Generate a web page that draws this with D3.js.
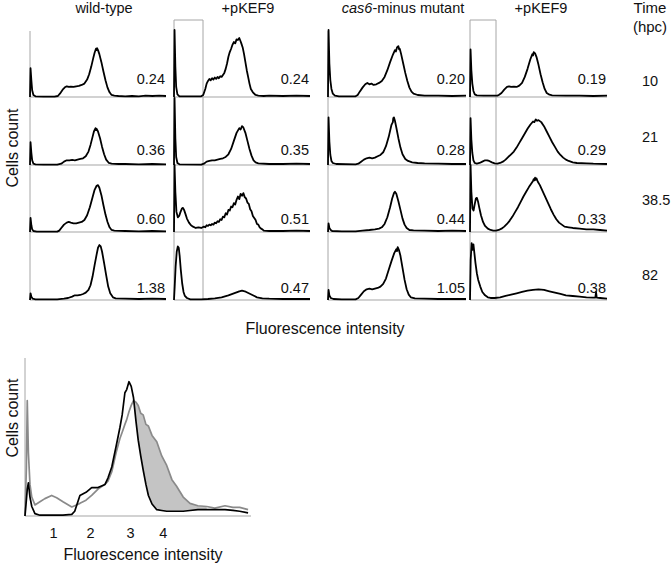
<!DOCTYPE html>
<html>
<head>
<meta charset="utf-8">
<script src="https://cdn.jsdelivr.net/npm/d3@7"></script>
<style>
  html, body { margin: 0; padding: 0; background: #fff; }
  svg { display: block; font-family: "Liberation Sans", Arial, sans-serif; }
</style>
</head>
<body>
<svg id="chart" width="672" height="566"></svg>
<script>
// ---------------- DATA ----------------
const columnLabels = ["wild-type", "+pKEF9", "cas6-minus mutant", "+pKEF9"];
const timeHeader = ["Time", "(hpc)"];
const timeLabels = ["10", "21", "38.5", "82"];
const cvRow10  = ["0.24", "0.24", "0.20", "0.19"];
const cvRow21  = ["0.36", "0.35", "0.28", "0.29"];
const cvRow38  = ["0.60", "0.51", "0.44", "0.33"];
const cvRow82  = ["1.38", "0.47", "1.05", "0.38"];

// histograms: [fluorescence (0-100), cell count (0-100)]
const wt10 = [[0,0],[0.4,43],[1,25],[1.6,10],[2.5,3],[4,1],[10,0.5],[18,0.5],[20.5,1.5],[22,5],[24,11],[26,15],[27,16],[28.5,15],[30,15.5],[32,15],[34,16],[36,16.5],[38,18],[40,20],[42,26],[43.5,34],[45,45],[46.5,58],[47.5,66],[48.5,72],[49,70],[49.3,73],[50,70],[51,64],[52.5,52],[54,38],[55.5,25],[57,14],[58.5,7],[60,3],[62,2],[65,1.5],[70,1],[75,1.5],[80,1],[85,2],[90,1.5],[95,2],[100,1.5]];
const wt21 = [[0,0],[0.4,34],[1,18],[1.6,7],[2.5,2],[4,1],[10,0.5],[20,0.5],[23,2],[25,5],[27,7],[29,7],[31,7.5],[33,7],[35,8],[37,9],[39,10],[41,13],[43,20],[44.5,30],[46,42],[47,50],[48.2,55],[48.6,52],[49,54],[50,50],[51.5,40],[53,27],[54.5,16],[56,8],[58,3],[60,2],[65,1.5],[70,1.5],[80,1],[90,1.5],[100,1]];
const wt38 = [[0,0],[0.4,21],[1,10],[1.6,4],[2.5,1.5],[5,0.5],[20,0.5],[21.5,2],[23,6],[25,11],[27,14],[28.5,15],[30,14],[32,13],[34,13],[36,14],[38,15],[40,18],[42,25],[44,37],[46,52],[47.5,63],[49,69],[50,70],[51,66],[52.5,55],[54,40],[55.5,26],[57,15],[58.5,7],[60,3],[62,2],[70,1.5],[80,1],[90,1.5],[100,1]];
const wt82 = [[0,0],[0.4,10],[1,5],[2,2],[4,1],[20,1],[25,2],[28,3],[31,5],[33,7],[35,7],[37,7.5],[39,9],[41,11],[43,15],[44.5,22],[46,35],[47.5,52],[49,68],[50,78],[51,82],[52,80],[53,72],[54.5,55],[56,37],[57.5,20],[59,10],[61,4],[63,2.5],[70,2],[80,1.5],[90,2],[100,1.5]];

const pk10 = [[0,0],[0.4,100],[1,45],[1.6,15],[2.5,4],[4,1],[10,1],[20,1],[21.5,3],[23,12],[24,20],[25,24],[26,27],[27,25],[28,28],[29,26],[30,29],[31,27],[32,30],[33,28],[34,31],[35,30],[36,33],[37,36],[38,42],[39,50],[40,60],[41,67],[42,72],[43,78],[44,82],[45,80],[46,86],[47,85],[48,88],[48.8,84],[49.5,80],[50.5,74],[51.5,64],[52.5,52],[53.5,40],[54.5,30],[55.5,20],[56.5,12],[58,7],[60,3],[62,2],[66,1.5],[70,2],[80,1.5],[90,2],[100,1.5]];
const pk21 = [[0,0],[0.4,100],[1,40],[1.6,12],[2.5,3],[4,1],[20,0.5],[22,2],[24,5],[26,6],[28,7],[30,7],[32,8],[34,9],[36,10],[38,12],[40,16],[42,24],[44,36],[46,48],[48,55],[49,53],[50,58],[51,56],[52.5,48],[54,36],[55.5,24],[57,14],[58.5,7],[60,4],[62,2.5],[70,1.5],[80,1.5],[90,2],[100,1.5]];
const pk38 = [[0,0],[0.4,100],[1,60],[1.8,30],[2.8,22],[3.8,24],[4.8,30],[5.8,35],[6.6,36],[7.4,33],[8.4,27],[9.5,20],[11,14],[12.5,10],[14,8],[16,6],[18,7],[20,6],[22,8],[23,7],[24,10],[25,9],[26,11],[27,10],[28,12],[29,11],[30,14],[31,13],[32,16],[33,15],[34,19],[35,18],[36,23],[37,22],[38,28],[39,26],[40,33],[41,32],[42,38],[43,37],[44,43],[45,41],[46,48],[47,53],[48,49],[49,57],[50,54],[51,58],[52,52],[53,50],[54,44],[55,42],[56,34],[57,31],[58,24],[59,21],[60,18],[61,12],[62,11],[63,7],[64,5],[65,4],[66,2],[70,1.5],[80,1.5],[90,2],[100,1.5]];
const pk82 = [[0,0],[0.5,20],[1.2,50],[2,72],[2.8,80],[3.5,78],[4.2,65],[5,45],[6,25],[7,12],[8,6],[9.5,3],[12,1],[20,1],[25,1.5],[30,2.5],[35,4],[40,7],[44,10],[48,13],[50,14],[52,13],[55,10],[58,7],[61,4],[65,2.5],[70,2],[80,1.5],[90,1.5],[100,1.5]];

const cas10 = [[0,0],[0.4,100],[1,50],[1.7,25],[2.5,12],[3.5,5],[5,2],[8,1],[20,1],[21.5,3],[23,8],[25,14],[27,19],[28.5,21],[30,19],[31.5,20],[33,18],[35,19],[37,21],[39,24],[41,30],[43,40],[45,52],[47,63],[48.5,70],[49.2,68],[50,74],[51,76],[51.5,71],[52,72],[53,64],[54.5,50],[56,36],[57.5,24],[59,14],[60.5,8],[62,5],[65,3],[70,2],[80,2],[90,1.5],[100,2]];
const cas21 = [[0,0],[0.4,71],[1,35],[1.7,15],[2.5,6],[3.5,3],[6,1.5],[20,1],[22,2],[24,5],[26,8],[28,10],[30,11],[32,10],[34,11],[36,13],[38,15],[40,19],[42,28],[44,42],[46,60],[47,64],[47.3,70],[47.8,71],[48.5,66],[49.5,56],[51,40],[52.5,26],[54,16],[56,9],[58,6],[61,4],[65,3],[70,2.5],[80,2],[90,1.5],[100,1.5]];
const cas38 = [[0,0],[0.4,13],[1,6],[2,3],[3,1.5],[10,1],[20,1],[25,2],[30,3],[34,4],[37,5],[39,7],[41,12],[43,22],[45,37],[46.5,50],[47.8,58],[48.5,60],[49.5,57],[51,46],[52.5,33],[54,20],[55.5,11],[57,6],[59,3],[62,2.5],[70,2],[80,1.5],[90,2],[100,1.5]];
const cas82 = [[0,0],[0.4,15],[1,7],[2,3],[4,1.5],[10,1],[20,1],[22,3],[24,8],[26,13],[28,16],[30,17],[32,16],[34,17],[36,18],[38,20],[40,24],[42,32],[44,45],[46,58],[48,70],[49.5,76],[50,73],[50.5,79],[51.5,74],[52.5,66],[54,48],[55.5,30],[57,16],[58.5,8],[60,4],[63,2.5],[70,2],[80,1.5],[90,1.5],[100,1.5]];

const cp10 = [[0,0],[0.4,71],[1,40],[1.7,20],[2.5,9],[3.5,4],[5,2.5],[10,2],[18,2],[20,2],[21,3],[23,6],[25,11],[27,15],[28.5,16],[30,15],[32,15.5],[34,15],[36,17],[38,21],[40,30],[42,42],[44,56],[45.5,64],[46,62],[46.5,67],[47.5,65],[48.5,60],[50,48],[51.5,34],[53,22],[54.5,12],[56,6],[58,3.5],[60,2.5],[70,2],[80,2],[90,1.5],[100,2]];
const cp21 = [[0,0],[0.4,70],[1,38],[1.7,18],[2.5,7],[3.5,3],[5,2],[7,3],[9,5],[11,7],[12.5,7],[14,6],[16,4],[18,2.5],[20,2],[22,3],[24,5],[26,8],[28,12],[30,16],[32,20],[34,26],[36,33],[38,40],[40,47],[42,54],[44,60],[46,65],[47,64],[48,68],[49,66],[50,67],[52,64],[54,58],[56,50],[58,42],[60,34],[62,27],[64,20],[66,15],[68,11],[70,8],[72,6],[75,4],[78,3],[85,2.5],[90,2],[100,1.5]];
const cp38 = [[0,0],[0.4,100],[1,60],[1.8,35],[2.6,32],[3.5,42],[4.3,50],[5,51],[5.8,46],[6.8,36],[8,25],[9.5,15],[11,9],[13,5],[15,3],[17,2],[19,2],[21,3],[23,5],[25,8],[27,12],[29,17],[31,23],[33,30],[35,37],[37,45],[39,53],[41,60],[43,67],[45,73],[46,76],[46.5,79],[47,77],[47.5,81],[48,78],[48.5,80],[49.5,75],[51,70],[53,61],[55,52],[57,43],[59,34],[61,26],[63,19],[65,14],[67,11],[69,8],[72,7],[75,6],[80,5],[85,4],[90,4],[95,3],[100,2]];
const cp82 = [[0,0],[0.5,60],[1.2,85],[1.8,75],[2.5,83],[3.2,70],[4,55],[5,40],[6,30],[7.5,20],[9,12],[11,7],[13,4],[15,3],[18,3],[22,4],[26,6],[30,8],[34,10],[38,12],[42,14],[46,15],[50,16],[54,15],[58,13],[62,11],[66,9],[70,7],[75,6],[80,5],[85,4],[90,3.5],[91.5,3.5],[92,12],[92.5,3.5],[95,3],[100,2]];

// bottom overlay histogram (common fluorescence grid)
const overlayX     = [0,0.6,1.0,1.5,2.2,3,4.4,6.6,8.8,11.8,14,16.8,20.7,22,24.3,27,29.5,32.3,35.4,36.7,38.4,40.3,42,43,44.2,45,46,47,48,49.1,50.1,51.2,52.3,53.5,54.6,56.2,58.3,60.5,62.7,65,67,70,73,76.5,80.4,84,88.5,92,95,98.7];
const overlayGray  = [0,30,73,40,20,12,7,9,11,13,11.5,9,5.7,6.5,8,10,13,17,20,22,28,40,49,53,58,61,66,70,73,72,70,65,64,58,57,51,47,38,32,23,19,12,8,6.5,6,5,6.5,5.5,5.5,4];
const overlayBlack = [0,10,17,21,12,6,1.5,0.5,0.5,0.5,0.5,0.5,1,3,13,15,18,18,20,24,31,44,56,64,78,80,85,82,75,60,48,38,29,20,13,7.6,4,3.5,3,3,3,3,3.5,4,4,4,4,3.5,3,2];
const overlayTickValues = [12.4, 28.8, 46.5, 61];
const overlayTickLabels = ["1", "2", "3", "4"];

const grid = [
  [wt10, pk10, cas10, cp10],
  [wt21, pk21, cas21, cp21],
  [wt38, pk38, cas38, cp38],
  [wt82, pk82, cas82, cp82]
];
const cvGrid = [cvRow10, cvRow21, cvRow38, cvRow82];

// ---------------- LAYOUT ----------------
const svg = d3.select("#chart");
const FONT = 14.5;
const TITLE_FONT = 16;
const axisGray = "#a6a6a6";
const colX = [[30, 166], [174, 310], [328, 466], [470, 607]];
const rowBase = [97, 165, 232, 300];
const rowH = 67;
const gateCols = { 1: 203, 3: 496 };
const gateTop = 20;

const yScales = rowBase.map(b => d3.scaleLinear().domain([0, 100]).range([b, b - rowH]));
const xScales = colX.map(c => d3.scaleLinear().domain([0, 100]).range(c));

// left axis lines for columns, gate boxes
colX.forEach((c, ci) => {
  const top = gateCols[ci] ? gateTop : 31;
  svg.append("line").attr("x1", c[0]).attr("x2", c[0]).attr("y1", top).attr("y2", rowBase[3])
    .attr("stroke", axisGray).attr("stroke-width", 1);
  if (gateCols[ci]) {
    svg.append("line").attr("x1", c[0]).attr("x2", gateCols[ci]).attr("y1", gateTop).attr("y2", gateTop)
      .attr("stroke", axisGray).attr("stroke-width", 1);
    svg.append("line").attr("x1", gateCols[ci]).attr("x2", gateCols[ci]).attr("y1", gateTop).attr("y2", rowBase[3])
      .attr("stroke", axisGray).attr("stroke-width", 1);
  }
});

// baselines
rowBase.forEach(b => {
  colX.forEach(c => {
    svg.append("line").attr("x1", c[0]).attr("x2", c[1]).attr("y1", b).attr("y2", b)
      .attr("stroke", axisGray).attr("stroke-width", 1.2);
  });
});

// curves
grid.forEach((row, ri) => {
  row.forEach((data, ci) => {
    const line = d3.line()
      .x(d => xScales[ci](d[0]))
      .y(d => yScales[ri](d[1]));
    svg.append("path").attr("d", line(data))
      .attr("fill", "none").attr("stroke", "#000").attr("stroke-width", 1.8)
      .attr("stroke-linejoin", "round");
  });
});

// CV labels
const cvY = [84, 155, 224, 293];
cvGrid.forEach((row, ri) => {
  row.forEach((t, ci) => {
    svg.append("text").attr("x", colX[ci][1] - 1).attr("y", cvY[ri])
      .attr("text-anchor", "end").attr("font-size", FONT).attr("fill", "#111").text(t);
  });
});

// column headers
const headerX = [104, 248, 403, 541];
columnLabels.forEach((t, i) => {
  const txt = svg.append("text").attr("x", headerX[i]).attr("y", 13)
    .attr("text-anchor", "middle").attr("font-size", FONT).attr("fill", "#111");
  if (t.startsWith("cas6")) {
    txt.append("tspan").attr("font-style", "italic").text("cas6");
    txt.append("tspan").text(t.slice(4));
  } else {
    txt.text(t);
  }
});

// time header and values
svg.append("text").attr("x", 650).attr("y", 13).attr("text-anchor", "middle").attr("font-size", 15).attr("fill", "#111").text(timeHeader[0]);
svg.append("text").attr("x", 650).attr("y", 32).attr("text-anchor", "middle").attr("font-size", 15).attr("fill", "#111").text(timeHeader[1]);
const timeY = [86, 142, 205, 280];
timeLabels.forEach((t, i) => {
  svg.append("text").attr("x", 642).attr("y", timeY[i]).attr("font-size", FONT).attr("fill", "#111").text(t);
});

// axis titles (top)
svg.append("text").attr("transform", "translate(18,148) rotate(-90)")
  .attr("text-anchor", "middle").attr("font-size", TITLE_FONT).attr("fill", "#111").text("Cells count");
svg.append("text").attr("x", 325).attr("y", 334)
  .attr("text-anchor", "middle").attr("font-size", TITLE_FONT).attr("fill", "#111").text("Fluorescence intensity");

// ---------------- bottom overlay ----------------
const bx = d3.scaleLinear().domain([0, 100]).range([25, 251]);
const by = d3.scaleLinear().domain([0, 100]).range([516, 358]);
const ov = overlayX.map((x, i) => ({ x, g: overlayGray[i], b: overlayBlack[i] }));

const fillPts = ov.filter(d => d.x >= 47 && d.x <= 80.4);
svg.append("path")
  .attr("d", d3.area().x(d => bx(d.x)).y0(d => by(d.b)).y1(d => by(Math.max(d.g, d.b)))(fillPts))
  .attr("fill", "#c4c4c4").attr("stroke", "none");

svg.append("line").attr("x1", 25).attr("x2", 25).attr("y1", 358).attr("y2", 516).attr("stroke", axisGray);
svg.append("line").attr("x1", 25).attr("x2", 251).attr("y1", 516).attr("y2", 516).attr("stroke", axisGray).attr("stroke-width", 1.2);

svg.append("path")
  .attr("d", d3.line().x(d => bx(d.x)).y(d => by(d.g))(ov))
  .attr("fill", "none").attr("stroke", "#8a8a8a").attr("stroke-width", 1.7).attr("stroke-linejoin", "round");
svg.append("path")
  .attr("d", d3.line().x(d => bx(d.x)).y(d => by(d.b))(ov))
  .attr("fill", "none").attr("stroke", "#000").attr("stroke-width", 1.7).attr("stroke-linejoin", "round");

const bAxis = d3.axisBottom(bx).tickValues(overlayTickValues)
  .tickFormat((d, i) => overlayTickLabels[i]).tickSize(0).tickPadding(0);
const gAxis = svg.append("g").attr("transform", "translate(0,528)").call(bAxis);
gAxis.select(".domain").remove();
gAxis.selectAll("text").attr("font-size", FONT).attr("fill", "#111")
  .attr("font-family", "Liberation Sans, Arial, sans-serif");

svg.append("text").attr("transform", "translate(18,418) rotate(-90)")
  .attr("text-anchor", "middle").attr("font-size", TITLE_FONT).attr("fill", "#111").text("Cells count");
svg.append("text").attr("x", 143).attr("y", 560)
  .attr("text-anchor", "middle").attr("font-size", TITLE_FONT).attr("fill", "#111").text("Fluorescence intensity");
</script>
</body>
</html>
